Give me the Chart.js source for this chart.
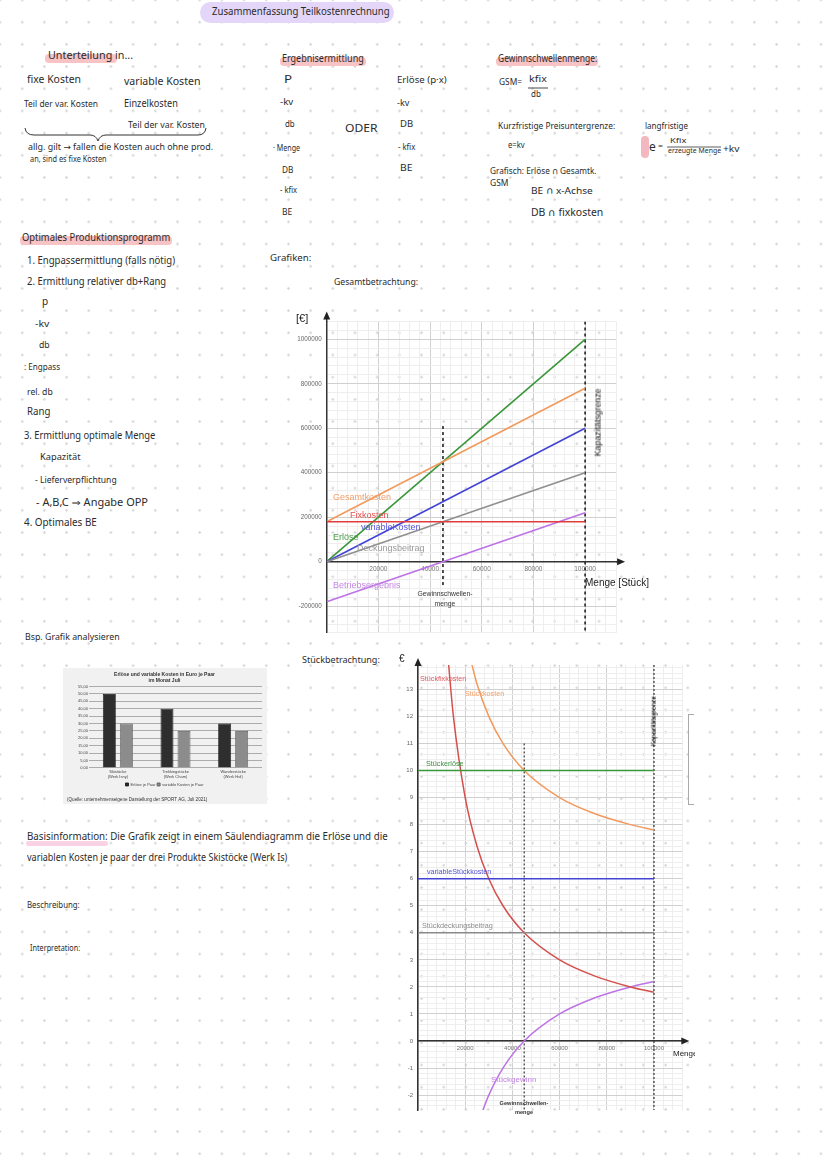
<!DOCTYPE html>
<html><head><meta charset="utf-8">
<script src="https://cdn.jsdelivr.net/npm/chart.js"></script>
<style>
html,body{margin:0;padding:0;background:#fff;}
#page{position:relative;width:828px;height:1171px;overflow:hidden;
 background-image:radial-gradient(circle,#d6d6d6 0.9px,rgba(255,255,255,0) 1.5px);
 background-size:22.2px 22.2px;background-position:-11.1px -11.1px;
 font-family:'Noto Sans','DejaVu Sans',sans-serif;color:#2b2b2b;}
.t{position:absolute;white-space:nowrap;line-height:1;transform-origin:0 50%;z-index:3;}
.hl{position:absolute;background:#f7c3c5;border-radius:4px;z-index:1;}
.lbl{position:absolute;white-space:nowrap;font-family:'Liberation Sans',Arial,sans-serif;line-height:1;z-index:4;}
canvas{position:absolute;z-index:2;}
</style></head>
<body><div id="page">
<div style="position:absolute;left:200px;top:2px;width:194px;height:21px;border-radius:11px;background:#e4d6f8;z-index:1"></div>
<div class="hl" style="left:45px;top:54px;width:72px;height:9px"></div>
<div class="hl" style="left:280px;top:57px;width:86px;height:9px"></div>
<div class="hl" style="left:496px;top:57px;width:102px;height:9px"></div>
<div class="hl" style="left:20px;top:236px;width:152px;height:9px"></div>
<div class="hl" style="left:641px;top:136px;width:8px;height:22px;background:#f3b7bf"></div>
<div class="hl" style="left:26px;top:841px;width:82px;height:5px;background:#f9d3e4"></div>
<svg style="position:absolute;left:0;top:0;z-index:3" width="828" height="260">
 <path d="M25,128 Q26,135 34,135 L90,135 Q96,135 98,141 Q100,135 106,135 L198,135 Q205,135 206,128" fill="none" stroke="#333" stroke-width="1"/>
 <line x1="528" y1="88" x2="548" y2="88" stroke="#333" stroke-width="0.9"/>
 <line x1="667" y1="147" x2="721" y2="147" stroke="#333" stroke-width="0.8"/>
</svg>
<div style="position:absolute;left:688px;top:714px;width:5px;height:89px;border:1px solid #aaa;border-right:none;z-index:2"></div>

<canvas id="c1" width="400" height="345" style="left:280px;top:300px"></canvas>
<canvas id="c2" width="310" height="480" style="left:395px;top:645px"></canvas>
<canvas id="c3" width="204" height="136" style="left:63px;top:668px;background:#f1f1f1"></canvas>
</div>
<script>
// ---------- Gesamtbetrachtung ----------
const mengen = [0, 100000];
const erloese = [0, 1000000];
const gesamtkosten = [180000, 780000];
const fixkosten = [180000, 180000];
const variableKosten = [0, 600000];
const deckungsbeitrag = [0, 400000];
const betriebsergebnis = [-180000, 220000];
const gewinnschwellenmenge = 45000;
const kapazitaetsgrenze = 100000;
const gsmLinieGesamt = [610000, -105000];
const kapLinieGesamt = [1080000, -320000];

// ---------- Stückbetrachtung ----------
const stueckMengenFix = [12500, 15000, 20000, 25000, 30000, 36000, 45000, 60000, 75000, 90000, 100000];
const stueckfixkosten = [14.4, 12, 9, 7.2, 6, 5, 4, 3, 2.4, 2, 1.8];
const stueckMengenKosten = [22000, 25000, 30000, 36000, 45000, 60000, 75000, 90000, 100000];
const stueckkosten = [14.2, 13.2, 12, 11, 10, 9, 8.4, 8, 7.8];
const stueckMengenGewinn = [27000, 30000, 36000, 45000, 60000, 75000, 90000, 100000];
const stueckgewinn = [-2.67, -2, -1, 0, 1, 1.6, 2, 2.2];
const stueckerloese = [10, 10];
const variableStueckkosten = [6, 6];
const stueckdeckungsbeitrag = [4, 4];
const gsmLinieStueck = [11, -2.55];
const kapLinieStueck = [13.9, -2.55];

// ---------- Säulendiagramm ----------
const produkte = [['Skistöcke', '(Werk Isny)'], ['Trekkingstöcke', '(Werk Cham)'], ['Wanderstöcke', '(Werk Hof)']];
const erloeseJePaar = [50, 40, 30];
const variableKostenJePaar = [30, 25, 25];

const pts = (xs, ys) => xs.map((x, i) => ({x: x, y: ys[i]}));
const vline = (x, ys) => ys.map(y => ({x: x, y: y}));

const page = document.getElementById('page');

// notes (handwritten text)
const notes = [
 [212, 12, 11, 178, 'Zusammenfassung Teilkostenrechnung'],
 [48, 56, 11, 85, 'Unterteilung in...'],
 [27, 80, 11, 54, 'fixe Kosten'],
 [124, 82, 10, 76, 'variable Kosten'],
 [24, 104, 9, 74, 'Teil der var. Kosten'],
 [124, 104, 10, 54, 'Einzelkosten'],
 [128, 125, 9, 77, 'Teil der var. Kosten'],
 [28, 148, 8.5, 185, 'allg. gilt → fallen die Kosten auch ohne prod.'],
 [30, 160, 8.5, 77, 'an, sind es fixe Kosten'],
 [282, 59, 10.5, 82, 'Ergebnisermittlung'],
 [284, 80, 10, 8, 'P'],
 [280, 102, 9, 13, '-kv'],
 [285, 125, 9.5, 10, 'db'],
 [273, 148, 9, 27, '· Menge'],
 [282, 170, 9, 11, 'DB'],
 [280, 191, 8, 17, '- kfix'],
 [282, 213, 8.5, 10, 'BE'],
 [345, 129, 11, 33, 'ODER'],
 [397, 81, 8.5, 50, 'Erlöse (p·x)'],
 [397, 103, 9, 12, '-kv'],
 [400, 125, 9.5, 13, 'DB'],
 [398, 147, 9, 17, '- kfix'],
 [400, 169, 9.5, 12, 'BE'],
 [498, 59, 10, 99, 'Gewinnschwellenmenge:'],
 [499, 83, 8, 23, 'GSM='],
 [529, 80, 9.5, 18, 'kfix'],
 [531, 95, 8, 10, 'db'],
 [498, 126, 9, 117, 'Kurzfristige Preisuntergrenze:'],
 [508, 145, 9, 17, 'e=kv'],
 [645, 126, 9, 43, 'langfristige'],
 [649, 148, 12, 7, 'e'],
 [658, 146, 7, 5, '='],
 [670, 141, 7, 16, 'Kfix'],
 [668, 152, 6.5, 53, 'erzeugte Menge'],
 [723, 149, 9, 17, '+kv'],
 [490, 171, 9, 107, 'Grafisch: Erlöse ∩ Gesamtk.'],
 [490, 184, 8, 18, 'GSM'],
 [531, 192, 9.5, 62, 'BE ∩ x-Achse'],
 [531, 213, 10, 72, 'DB ∩ fixkosten'],
 [22, 238, 10, 148, 'Optimales Produktionsprogramm'],
 [27, 261, 10, 148, '1. Engpassermittlung (falls nötig)'],
 [27, 282, 10, 139, '2. Ermittlung relativer db+Rang'],
 [42, 302, 10, 6, 'p'],
 [35, 324, 9, 14, '-kv'],
 [39, 346, 9.5, 11, 'db'],
 [24, 367, 9, 36, ': Engpass'],
 [27, 392, 9, 26, 'rel. db'],
 [27, 412, 10.5, 23, 'Rang'],
 [24, 436, 10.5, 131, '3. Ermittlung optimale Menge'],
 [40, 458, 9.5, 41, 'Kapazität'],
 [35, 480, 9, 82, '- Lieferverpflichtung'],
 [36, 503, 10, 112, '- A,B,C  ⇒  Angabe OPP'],
 [24, 523, 10, 73, '4. Optimales BE'],
 [270, 258, 9, 41, 'Grafiken:'],
 [334, 283, 9.5, 84, 'Gesamtbetrachtung:'],
 [25, 637, 9, 95, 'Bsp. Grafik analysieren'],
 [302, 661, 9.5, 78, 'Stückbetrachtung:'],
 [27, 837, 11, 361, 'Basisinformation: Die Grafik zeigt in einem Säulendiagramm die Erlöse und die'],
 [27, 858, 10, 260, 'variablen Kosten je paar der drei Produkte Skistöcke (Werk Is)'],
 [27, 905, 9, 53, 'Beschreibung:'],
 [30, 948, 9, 50, 'Interpretation:']
];
notes.forEach(([x, cy, s, w, txt]) => {
  const d = document.createElement('div');
  d.className = 't';
  d.style.left = x + 'px';
  d.style.top = (cy - s * 0.6) + 'px';
  d.style.fontSize = s + 'px';
  d.textContent = txt;
  page.appendChild(d);
  const a = d.offsetWidth;
  if (a > 0) d.style.transform = 'scaleX(' + (w / a) + ')';
});

// chart annotations (text)
const labels = [
 [333, 498, 9, '#f2a068', 'Gesamtkosten'],
 [350, 516, 9, '#e2504c', 'Fixkosten'],
 [361, 528, 9, '#5a5ad8', 'variableKosten'],
 [333, 538, 9, '#48a048', 'Erlöse'],
 [357, 549, 9, '#9a9a9a', 'Deckungsbeitrag'],
 [333, 586, 9, '#c586e6', 'Betriebsergebnis'],
 [585, 583, 10, '#222', 'Menge [Stück]'],
 [296, 319, 11, '#222', '[€]'],
 [420, 679, 7.2, '#e05a62', 'Stückfixkosten'],
 [465, 694, 7.2, '#f2a068', 'Stückkosten'],
 [426, 764, 7.2, '#3f9140', 'Stückerlöse'],
 [427, 872, 7.2, '#5555d5', 'variableStückkosten'],
 [422, 926, 7.2, '#8e8e8e', 'Stückdeckungsbeitrag'],
 [491, 1080, 8, '#c586e6', 'Stückgewinn'],
 [399, 659, 10, '#222', '€']
];
labels.forEach(([x, cy, s, col, txt]) => {
  const d = document.createElement('div');
  d.className = 'lbl';
  d.style.left = x + 'px'; d.style.top = (cy - s * 0.55) + 'px';
  d.style.fontSize = s + 'px'; d.style.color = col; d.textContent = txt;
  page.appendChild(d);
});
function centered(x, cy, s, txt, weight) {
  const d = document.createElement('div');
  d.className = 'lbl';
  d.style.left = (x - 60) + 'px'; d.style.width = '120px'; d.style.textAlign = 'center';
  d.style.top = (cy - s * 0.55) + 'px'; d.style.fontSize = s + 'px'; d.style.color = '#333';
  d.style.fontWeight = weight || 'normal'; d.textContent = txt; page.appendChild(d);
}
centered(445, 595, 6.8, 'Gewinnschwellen-');
centered(445, 605, 6.8, 'menge');
centered(524, 1104, 5.6, 'Gewinnschwellen-', 'bold');
centered(524, 1113, 5.6, 'menge', 'bold');
function vertical(cx, cy, s, txt) {
  const d = document.createElement('div');
  d.className = 'lbl';
  d.style.left = (cx - 60) + 'px'; d.style.width = '120px'; d.style.textAlign = 'center';
  d.style.top = (cy - s * 0.55) + 'px'; d.style.fontSize = s + 'px'; d.style.color = '#111';
  d.style.transform = 'rotate(-90deg)'; d.textContent = txt; page.appendChild(d);
}
vertical(598, 423, 8.8, 'Kapazitätsgrenze');
vertical(654, 722, 6.5, 'Kapazitätsgrenze');
(function(){
  const d = document.createElement('div');
  d.style.cssText = 'position:absolute;left:673px;top:1049px;width:22px;height:12px;overflow:hidden;z-index:4;font:8px Liberation Sans,Arial,sans-serif;color:#222;white-space:nowrap';
  d.textContent = 'Menge'; page.appendChild(d);
})();

const isMult = (v, m) => Math.abs(v / m - Math.round(v / m)) < 1e-6;

// axis arrows at the ends of the axes
const axisArrows = {
  id: 'axisArrows',
  afterDraw(chart, args, o) {
    const {ctx, chartArea, scales: {x, y}} = chart;
    const x0 = x.getPixelForValue(0), y0 = y.getPixelForValue(0);
    ctx.save();
    ctx.fillStyle = '#222'; ctx.strokeStyle = '#333'; ctx.lineWidth = 1.5;
    const tipY = chartArea.top - o.up;
    ctx.beginPath(); ctx.moveTo(x0, chartArea.top); ctx.lineTo(x0, tipY + 4); ctx.stroke();
    ctx.beginPath(); ctx.moveTo(x0, tipY); ctx.lineTo(x0 - 3.5, tipY + 8); ctx.lineTo(x0 + 3.5, tipY + 8); ctx.closePath(); ctx.fill();
    const tipX = chartArea.right + o.right;
    ctx.beginPath(); ctx.moveTo(chartArea.right, y0); ctx.lineTo(tipX - 4, y0); ctx.stroke();
    ctx.beginPath(); ctx.moveTo(tipX, y0); ctx.lineTo(tipX - 8, y0 - 3.5); ctx.lineTo(tipX - 8, y0 + 3.5); ctx.closePath(); ctx.fill();
    ctx.restore();
  }
};

// ---------- Chart 1: Gesamtbetrachtung ----------
new Chart(document.getElementById('c1'), {
  type: 'line',
  data: {datasets: [
    {data: pts(mengen, fixkosten), borderColor: '#e03c3c'},
    {data: pts(mengen, gesamtkosten), borderColor: '#f29a5c'},
    {data: pts(mengen, deckungsbeitrag), borderColor: '#8f8f8f'},
    {data: pts(mengen, variableKosten), borderColor: '#4343d6'},
    {data: pts(mengen, erloese), borderColor: '#3a963a'},
    {data: pts(mengen, betriebsergebnis), borderColor: '#bd72e6'},
    {data: vline(gewinnschwellenmenge, gsmLinieGesamt), borderColor: '#222', borderDash: [3, 3], borderWidth: 1.6},
    {data: vline(kapazitaetsgrenze, kapLinieGesamt), borderColor: '#222', borderDash: [3, 3], borderWidth: 1.6}
  ]},
  plugins: [axisArrows],
  options: {
    responsive: false, animation: false,
    layout: {padding: {top: 21.5, right: 63.9, bottom: 12.1, left: 0}},
    elements: {point: {radius: 0}, line: {borderWidth: 1.6, tension: 0}},
    plugins: {legend: {display: false}, tooltip: {enabled: false}, axisArrows: {up: 10, right: 9}},
    scales: {
      x: {type: 'linear', min: 0, max: 112000, position: {y: 0},
        ticks: {stepSize: 4000, autoSkip: false, maxRotation: 0, padding: 4,
          callback: v => (v !== 0 && isMult(v, 20000)) ? String(Math.round(v)) : '',
          font: {size: 6.5, family: 'Liberation Sans'}, color: '#777'},
        grid: {drawTicks: false, color: c => (c.tick && isMult(c.tick.value, 20000)) ? '#d0d0d0' : '#eeeeee'},
        border: {color: '#333', width: 1.5}},
      y: {min: -320000, max: 1080000,
        afterFit: s => { s.width = 46.7; },
        ticks: {stepSize: 40000, autoSkip: false, padding: 5,
          callback: v => isMult(v, 200000) ? String(Math.round(v)) : '',
          font: {size: 6.3, family: 'Liberation Sans'}, color: '#666'},
        grid: {drawTicks: false, color: c => (c.tick && isMult(c.tick.value, 200000)) ? '#d0d0d0' : '#eeeeee'},
        border: {color: '#333', width: 1.5}}
    }
  }
});

// ---------- Chart 2: Stückbetrachtung ----------
new Chart(document.getElementById('c2'), {
  type: 'line',
  data: {datasets: [
    {data: pts(mengen, stueckerloese), borderColor: '#3a963a'},
    {data: pts(mengen, variableStueckkosten), borderColor: '#4343d6'},
    {data: pts(mengen, stueckdeckungsbeitrag), borderColor: '#8a8a8a'},
    {data: pts(stueckMengenKosten, stueckkosten), borderColor: '#f29a5c', cubicInterpolationMode: 'monotone'},
    {data: pts(stueckMengenFix, stueckfixkosten), borderColor: '#d4504c', cubicInterpolationMode: 'monotone'},
    {data: pts(stueckMengenGewinn, stueckgewinn), borderColor: '#bd72e6', cubicInterpolationMode: 'monotone'},
    {data: vline(gewinnschwellenmenge, gsmLinieStueck), borderColor: '#333', borderDash: [2, 2], borderWidth: 1.2},
    {data: vline(kapazitaetsgrenze, kapLinieStueck), borderColor: '#333', borderDash: [2, 2], borderWidth: 1.2}
  ]},
  plugins: [axisArrows],
  options: {
    responsive: false, animation: false,
    layout: {padding: {top: 20, right: 22.7, bottom: 15, left: 0}},
    elements: {point: {radius: 0}, line: {borderWidth: 1.5}},
    plugins: {legend: {display: false}, tooltip: {enabled: false}, axisArrows: {up: 7, right: 7}},
    scales: {
      x: {type: 'linear', min: 0, max: 112000, position: {y: 0},
        ticks: {stepSize: 4000, autoSkip: false, maxRotation: 0, padding: 4,
          callback: v => (v !== 0 && isMult(v, 20000)) ? String(Math.round(v)) : '',
          font: {size: 6, family: 'Liberation Sans'}, color: '#777'},
        grid: {drawTicks: false, color: c => (c.tick && isMult(c.tick.value, 20000)) ? '#d0d0d0' : '#eeeeee'},
        border: {color: '#333', width: 1.5}},
      y: {min: -2.55, max: 13.9,
        afterFit: s => { s.width = 23; },
        ticks: {stepSize: 0.2, autoSkip: false, includeBounds: false, padding: 5,
          callback: v => isMult(v, 1) ? String(Math.round(v)) : '',
          font: {size: 6, family: 'Liberation Sans'}, color: '#666'},
        grid: {drawTicks: false, color: c => (c.tick && isMult(c.tick.value, 1)) ? '#d0d0d0' : '#eeeeee'},
        border: {color: '#333', width: 1.5}}
    }
  }
});

// ---------- Chart 3: Säulendiagramm ----------
new Chart(document.getElementById('c3'), {
  type: 'bar',
  data: {labels: produkte, datasets: [
    {label: 'Erlöse je Paar', data: erloeseJePaar, backgroundColor: '#2e2e2e', borderColor: '#111', borderWidth: 0.8},
    {label: 'variable Kosten je Paar', data: variableKostenJePaar, backgroundColor: '#8c8c8c', borderColor: '#555', borderWidth: 0.8}
  ]},
  options: {
    responsive: false, animation: false,
    layout: {padding: {left: 4, right: 5, top: 0, bottom: 0}},
    datasets: {bar: {categoryPercentage: 0.59, barPercentage: 0.76}},
    plugins: {
      title: {display: true, text: ['Erlöse und variable Kosten in Euro je Paar', 'im Monat Juli'],
        font: {size: 5, weight: 'bold', family: 'Liberation Sans', lineHeight: 1.15}, color: '#333', padding: {top: 4, bottom: 3}},
      subtitle: {display: true, position: 'bottom', align: 'start',
        text: '(Quelle: unternehmenseigene Darstellung der SPORT AG, Juli 2021)',
        font: {size: 4.6, family: 'Liberation Sans'}, color: '#333', padding: {top: 0, bottom: 2}},
      legend: {position: 'bottom', labels: {boxWidth: 3, boxHeight: 3, font: {size: 4, family: 'Liberation Sans'}, padding: 1.5, color: '#444'}},
      tooltip: {enabled: false}
    },
    scales: {
      x: {grid: {display: false, drawTicks: false}, border: {display: false},
        ticks: {font: {size: 4, family: 'Liberation Sans', lineHeight: 1.15}, color: '#444', maxRotation: 0, autoSkip: false, padding: 2}},
      y: {min: 0, max: 55, afterFit: s => { s.width = 22; }, border: {display: false},
        ticks: {stepSize: 5, autoSkip: false, callback: v => v.toFixed(2).replace('.', ','), font: {size: 4, family: 'Liberation Sans'}, color: '#444', padding: 1},
        grid: {color: '#9a9a9a', drawTicks: false, lineWidth: 0.8}}
    }
  }
});
</script>
</body></html>
